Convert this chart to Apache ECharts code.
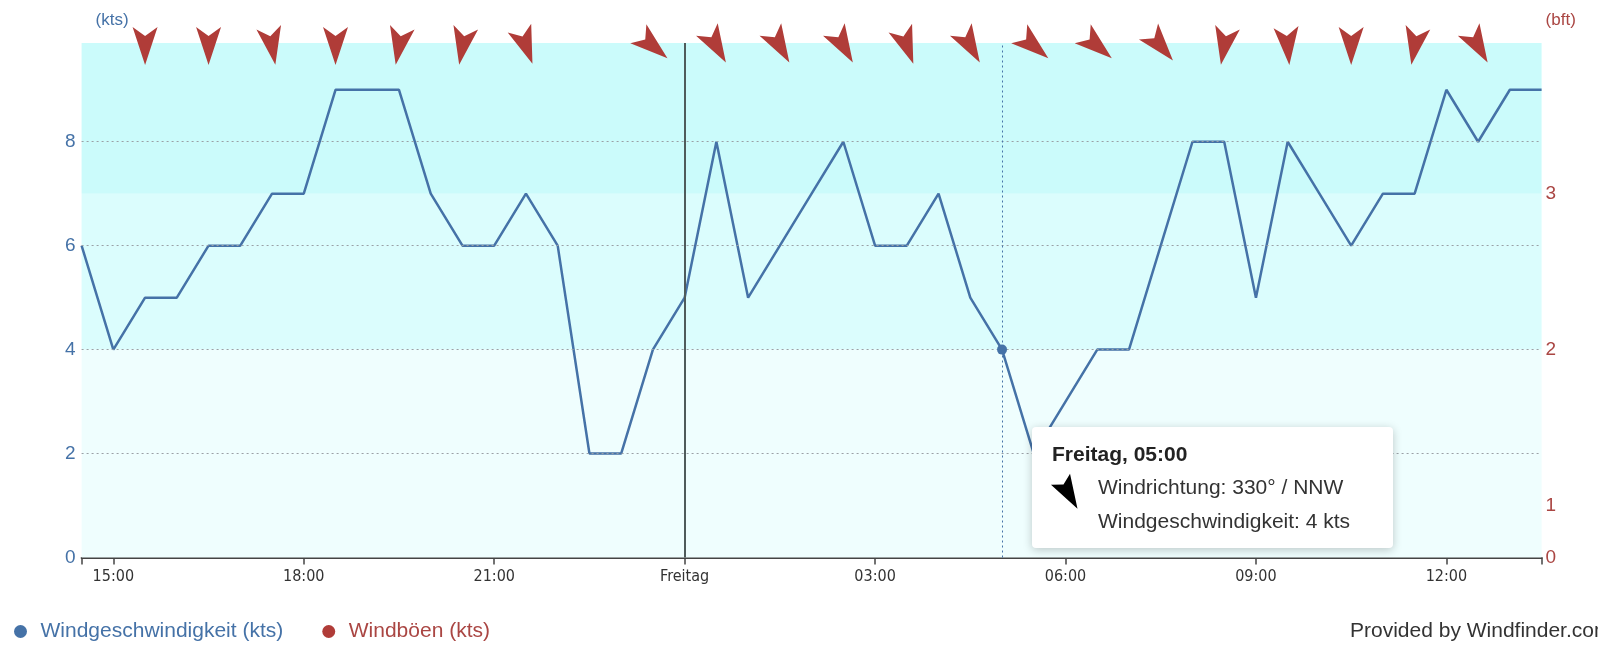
<!DOCTYPE html>
<html>
<head>
<meta charset="utf-8">
<script src="https://cdn.jsdelivr.net/npm/echarts@6/dist/echarts.min.js"></script>
<style>
html,body{margin:0;padding:0;background:#fff}
#wind{width:1598px;height:646px}
</style>
</head>
<body>
<div id="wind"></div>
<script>
// halbstündlich, Donnerstag 14:30 bis Freitag 13:30
var zeiten = ['14:30','15:00','15:30','16:00','16:30','17:00','17:30','18:00','18:30','19:00',
              '19:30','20:00','20:30','21:00','21:30','22:00','22:30','23:00','23:30','00:00',
              '00:30','01:00','01:30','02:00','02:30','03:00','03:30','04:00','04:30','05:00',
              '05:30','06:00','06:30','07:00','07:30','08:00','08:30','09:00','09:30','10:00',
              '10:30','11:00','11:30','12:00','12:30','13:00','13:30'];
// Windgeschwindigkeit in kts
var speed = [6,4,5,5,6,6,7,7,9,9, 9,7,6,6,7,6,2,2,4,5, 8,5,6,7,8,6,6,7,5,4, 2,3,4,4,6,8,8,5,8,7, 6,7,7,9,8,9,9];
// Windrichtung (Grad, woher) fuer die Pfeile oben
var pfeilZeiten = ['15:30','16:30','17:30','18:30','19:30','20:30','21:30','22:30','23:30','00:30','01:30',
                   '02:30','03:30','04:30','05:30','06:30','07:30','08:30','09:30','10:30','11:30','12:30'];
var richtung = [0,0,350,0,10,10,340,null,310,330,330,330,340,330,310,310,320,10,355,0,10,330];
// Gitterlinien und Beaufort-Grenzen (kts)
var gitter = [2,4,6,8];
var bftWerte = [0,1,4,7];
var bftLabels = ['0','1','2','3'];
var baender = [[0,4],[4,7],[7,9.9]];
var baenderFarben = ['#effefe','#dbfdfd','#cbfbfb'];
// Tooltip: Freitag 05:00
var hoverIndex = 29;
var hoverRichtung = 330;
var hoverText = 'NNW';

var yMax = 9.9;
var blau = '#4572a7';
var rot = '#aa4643';
var pfeilPfad = 'path://M12,0 L24,38 L12,29 L0,38 Z';

var chart = echarts.init(document.getElementById('wind'));

var pfeilDaten = [];
for (var k = 0; k < pfeilZeiten.length; k++) {
    if (richtung[k] == null) continue;
    pfeilDaten.push({value: [pfeilZeiten[k], yMax], symbolRotate: -(richtung[k] + 180)});
}

var linien = [];
for (var g = 0; g < gitter.length; g++) {
    linien.push({yAxis: gitter[g], lineStyle: {color: '#9aa0a6', type: [2, 3], width: 1}});
}
linien.push({xAxis: '00:00', lineStyle: {color: '#4f5b5b', type: 'solid', width: 2}});
linien.push({xAxis: zeiten[hoverIndex], lineStyle: {color: blau, type: [2, 3], width: 1}});

var flaechen = [];
for (var b = 0; b < baender.length; b++) {
    flaechen.push([{yAxis: baender[b][0], itemStyle: {color: baenderFarben[b]}}, {yAxis: baender[b][1]}]);
}

var tipX = 1032, tipY = 427;
var tipFont = '21px Liberation Sans, Arial, sans-serif';

var option = {
    animation: false,
    textStyle: {fontFamily: 'Liberation Sans, Arial, sans-serif'},
    grid: {left: 81.6, right: 56.4, top: 43, bottom: 88.5},
    legend: {
        left: 9, top: 616,
        icon: 'circle',
        itemWidth: 30, itemHeight: 13, itemGap: 39,
        textStyle: {fontSize: 21},
        data: [
            {name: 'Windgeschwindigkeit (kts)', textStyle: {color: blau}},
            {name: 'Windböen (kts)', textStyle: {color: rot}}
        ]
    },
    xAxis: {
        type: 'category',
        data: zeiten,
        boundaryGap: false,
        axisLine: {lineStyle: {color: '#444', width: 2}},
        axisTick: {
            length: 7,
            lineStyle: {color: '#444', width: 1.5},
            interval: function (i) { return i === 0 || i === zeiten.length - 1 || (i - 1) % 6 === 0; }
        },
        axisLabel: {
            interval: function (i) { return (i - 1) % 6 === 0; },
            margin: 11,
            fontSize: 16,
            fontFamily: 'DejaVu Sans Condensed, sans-serif',
            color: '#333',
            formatter: function (v) { return v === '00:00' ? 'Freitag' : v; }
        },
        splitLine: {show: false}
    },
    yAxis: [
        {
            type: 'value', min: 0, max: yMax, interval: 2,
            name: '(kts)', nameLocation: 'end', nameGap: 14,
            nameTextStyle: {color: blau, fontSize: 17, align: 'left', padding: [0, 0, 0, 14]},
            axisLine: {show: false}, axisTick: {show: false}, splitLine: {show: false},
            axisLabel: {color: blau, fontSize: 19, margin: 6, showMaxLabel: false}
        },
        {
            type: 'value', min: 0, max: yMax, position: 'right',
            name: '(bft)', nameLocation: 'end', nameGap: 14,
            nameTextStyle: {color: rot, fontSize: 17, align: 'left', padding: [0, 0, 0, 4]},
            axisLine: {show: false}, axisTick: {show: false}, splitLine: {show: false},
            axisLabel: {
                color: rot, fontSize: 19, margin: 4,
                customValues: bftWerte,
                formatter: function (v) { return bftLabels[bftWerte.indexOf(v)]; }
            }
        }
    ],
    series: [
        {
            name: 'Windgeschwindigkeit (kts)',
            type: 'line',
            data: speed,
            color: blau,
            showSymbol: false,
            lineStyle: {width: 2.5, color: blau},
            z: 3,
            markArea: {silent: true, data: flaechen},
            markLine: {silent: true, symbol: 'none', label: {show: false}, data: linien},
            markPoint: {
                silent: true,
                symbol: 'circle', symbolSize: 10,
                itemStyle: {color: blau},
                label: {show: false},
                data: [{coord: [zeiten[hoverIndex], speed[hoverIndex]]}]
            }
        },
        {
            name: 'Windböen (kts)',
            type: 'scatter',
            color: rot,
            symbol: pfeilPfad,
            symbolSize: [25, 38],
            symbolOffset: [0, 3],
            clip: false,
            itemStyle: {color: '#b03c38', opacity: 1},
            data: pfeilDaten,
            z: 5
        }
    ],
    graphic: [
        {
            type: 'group', left: tipX, top: tipY, z: 100,
            children: [
                {type: 'rect', z: 100, shape: {x: 0, y: 0, width: 361, height: 121, r: 4},
                 style: {fill: '#fff', shadowBlur: 10, shadowColor: 'rgba(0,0,0,0.22)', shadowOffsetY: 2}},
                {type: 'text', z: 101, x: 20, y: 28,
                 style: {text: 'Freitag, ' + zeiten[hoverIndex], fill: '#222', font: 'bold ' + tipFont, verticalAlign: 'middle'}},
                {type: 'polygon', z: 101, x: 37, y: 67, rotation: -(hoverRichtung + 180) * Math.PI / 180,
                 shape: {points: [[0, -17], [11, 17], [0, 11], [-11, 17]]},
                 style: {fill: '#000'}},
                {type: 'text', z: 101, x: 66, y: 61,
                 style: {text: 'Windrichtung: ' + hoverRichtung + '° / ' + hoverText, fill: '#333', font: tipFont, verticalAlign: 'middle'}},
                {type: 'text', z: 101, x: 66, y: 95,
                 style: {text: 'Windgeschwindigkeit: ' + speed[hoverIndex] + ' kts', fill: '#333', font: tipFont, verticalAlign: 'middle'}}
            ]
        },
        {
            type: 'text', left: 1350, top: 621,
            style: {text: 'Provided by Windfinder.com', fill: '#333', font: tipFont}
        }
    ]
};

chart.setOption(option);
</script>
</body>
</html>
